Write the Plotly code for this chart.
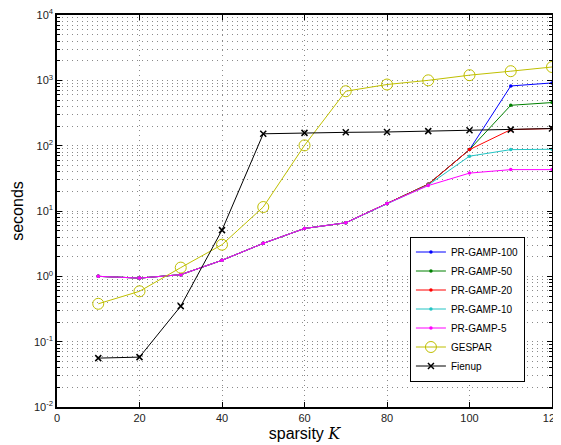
import plotly.graph_objects as go

K = [10, 20, 30, 40, 50, 60, 70, 80, 90, 100, 110, 120]

gamp100 = [1.0, 0.94, 1.06, 1.76, 3.2, 5.4, 6.6, 13.0, 25.7, 87, 820, 912]
gamp50 = [1.0, 0.94, 1.06, 1.76, 3.2, 5.4, 6.6, 13.0, 25.7, 87, 415, 457]
gamp20 = [1.0, 0.94, 1.06, 1.76, 3.2, 5.4, 6.6, 13.0, 25.7, 87, 176, 183]
gamp10 = [1.0, 0.94, 1.06, 1.76, 3.2, 5.4, 6.6, 13.0, 25.0, 69, 87, 88]
gamp5 = [1.0, 0.94, 1.06, 1.76, 3.2, 5.4, 6.6, 13.0, 24.5, 38, 43, 43]
gespar = [0.38, 0.59, 1.36, 3.05, 11.5, 101, 681, 863, 1000, 1200, 1380, 1600]
fienup = [0.056, 0.058, 0.35, 5.1, 152, 157, 160, 162, 167, 172, 176, 183]

series = [
    ("PR-GAMP-100", gamp100, "#0000ff", "dot"),
    ("PR-GAMP-50", gamp50, "#008000", "dot"),
    ("PR-GAMP-20", gamp20, "#ff0000", "dot"),
    ("PR-GAMP-10", gamp10, "#22c4c4", "dot"),
    ("PR-GAMP-5", gamp5, "#ff00ff", "dot"),
    ("GESPAR", gespar, "#bfbf00", "circle"),
    ("Fienup", fienup, "#000000", "x"),
]

ytick_vals = [1e-2, 1e-1, 1e0, 1e1, 1e2, 1e3, 1e4]
ytick_text = ["10<sup>-2</sup>", "10<sup>-1</sup>", "10<sup>0</sup>", "10<sup>1</sup>",
              "10<sup>2</sup>", "10<sup>3</sup>", "10<sup>4</sup>"]
xtick_vals = [0, 20, 40, 60, 80, 100, 120]
minor_y = [m * 10 ** e for e in range(-2, 4) for m in range(2, 10)]

fig = go.Figure()
for name, vals, color, sym in series:
    if sym == "dot":
        marker = dict(symbol="circle", size=3.5, color=color)
    elif sym == "circle":
        marker = dict(symbol="circle-open", size=11, color=color, line=dict(width=1, color=color))
    else:
        marker = dict(symbol="x-thin-open", size=6, color=color, line=dict(width=1.5, color=color))
    fig.add_trace(go.Scatter(x=K, y=vals, name=name, mode="lines+markers", cliponaxis=False,
                             line=dict(color=color, width=1), marker=marker))

GRID = "#8a8a8a"
DASH = "1px,4px"
axis_common = dict(
    showline=True, linecolor="black", linewidth=1.5, mirror="ticks",
    ticks="inside", ticklen=5, tickcolor="black",
    showgrid=True, gridcolor=GRID, griddash=DASH, gridwidth=1,
    zeroline=False, automargin=False, ticklabeloverflow="allow",
    tickfont=dict(family="Liberation Sans, Arial", size=11, color="#222"),
)

fig.update_xaxes(range=[0, 120], tickvals=xtick_vals,
                 title=dict(text="sparsity <span style='font-family:DejaVu Serif, serif;font-style:italic'>K</span>",
                            font=dict(family="Liberation Sans, Arial", size=16, color="black"), standoff=2),
                 **axis_common)
fig.update_yaxes(type="log", range=[-2, 4], tickvals=ytick_vals, ticktext=ytick_text,
                 title=dict(text="seconds", font=dict(family="Liberation Sans, Arial", size=16, color="black"), standoff=6),
                 minor=dict(tickvals=minor_y, ticks="inside", ticklen=3, tickcolor="black",
                            showgrid=True, gridcolor=GRID, griddash=DASH, gridwidth=1),
                 **axis_common)

fig.update_layout(
    width=553, height=437,
    margin=dict(l=49, r=9, t=7, b=38),
    plot_bgcolor="white", paper_bgcolor="white",
    legend=dict(x=0.713, y=0.25, xanchor="left", yanchor="middle",
                bgcolor="white", bordercolor="black", borderwidth=1,
                font=dict(family="Liberation Sans, Arial", size=10, color="black"),
                tracegroupgap=0, itemwidth=30),
    showlegend=True,
)

fig.write_html("out.html")
